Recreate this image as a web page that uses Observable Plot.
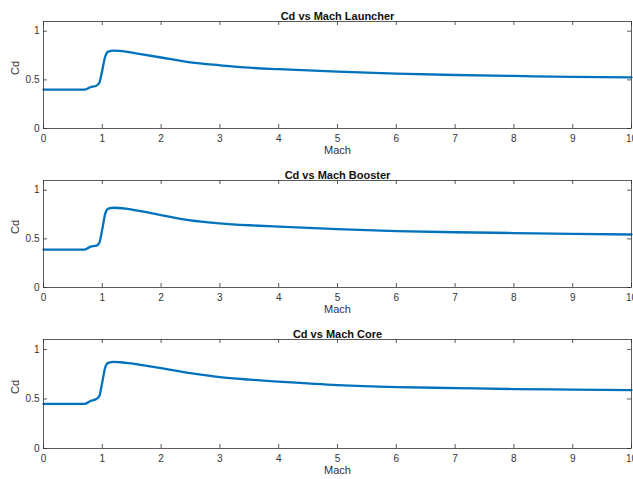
<!DOCTYPE html>
<html>
<head>
<meta charset="utf-8">
<script src="https://cdn.jsdelivr.net/npm/d3@7"></script>
<script src="https://cdn.jsdelivr.net/npm/@observablehq/plot@0.6"></script>
<style>
  html, body { margin: 0; padding: 0; background: #fff; }
  #charts svg { display: block; }
</style>
</head>
<body>
<div id="charts"></div>
<script>
const mach = [0, 0.2, 0.4, 0.6, 0.7, 0.8, 0.9, 0.95, 1.0, 1.05, 1.1, 1.2, 1.4, 1.6, 2.0, 2.5, 3.0, 3.5, 4.0, 5.0, 6.0, 7.0, 8.0, 9.0, 10.0];
const cdLauncher = [0.40, 0.40, 0.40, 0.40, 0.40, 0.425, 0.44, 0.47, 0.60, 0.74, 0.79, 0.80, 0.79, 0.77, 0.73, 0.68, 0.65, 0.625, 0.61, 0.585, 0.565, 0.55, 0.54, 0.53, 0.525];
const cdBooster  = [0.39, 0.39, 0.39, 0.39, 0.39, 0.42, 0.43, 0.46, 0.60, 0.76, 0.81, 0.82, 0.81, 0.79, 0.745, 0.69, 0.66, 0.64, 0.625, 0.60, 0.58, 0.568, 0.56, 0.552, 0.545];
const cdCore     = [0.45, 0.45, 0.45, 0.45, 0.45, 0.48, 0.50, 0.53, 0.67, 0.82, 0.865, 0.875, 0.865, 0.85, 0.81, 0.76, 0.72, 0.695, 0.675, 0.64, 0.62, 0.61, 0.60, 0.595, 0.59];
const titles = ["Cd vs Mach Launcher", "Cd vs Mach Booster", "Cd vs Mach Core"];
const series = [cdLauncher, cdBooster, cdCore];
const xTicks = [0, 1, 2, 3, 4, 5, 6, 7, 8, 9, 10];
const yTicks = [0, 0.5, 1];
const yTickLabels = ["0", "0.5", "1"];

const W = 633, mL = 43, mR = 2, mT = 21, mB = 31;
const heights = [159, 159, 161];
const axisColor = "#333333";
const tickLen = 4;

const container = document.getElementById("charts");
titles.forEach((title, i) => {
  const H = heights[i];
  const plotH = H - mT - mB;
  const plotW = W - mL - mR;
  const data = mach.map((m, j) => ({mach: m, cd: series[i][j]}));
  const chart = Plot.plot({
    width: W, height: H,
    marginLeft: mL, marginRight: mR, marginTop: mT, marginBottom: mB,
    style: {fontFamily: "'Liberation Sans', Arial, sans-serif", color: axisColor, background: "#fff", overflow: "visible"},
    x: {domain: [0, 10], ticks: xTicks, tickSize: 0, tickPadding: 6, tickFormat: d => String(d), label: null},
    y: {domain: [0, 1.1], ticks: yTicks, tickSize: 0, tickPadding: 4, tickFormat: d => yTickLabels[yTicks.indexOf(d)], label: null},
    marks: [
      Plot.axisX(xTicks, {tickSize: 0, tickPadding: 6, fontSize: 10, fill: axisColor, tickFormat: d => String(d), label: null}),
      Plot.axisY(yTicks, {tickSize: 0, tickPadding: 4, fontSize: 10, fill: axisColor, tickFormat: d => yTickLabels[yTicks.indexOf(d)], label: null}),
      Plot.tickX(xTicks, {x: d => d, insetTop: plotH - tickLen, stroke: axisColor, strokeWidth: 0.8}),
      Plot.tickX(xTicks, {x: d => d, insetBottom: plotH - tickLen, stroke: axisColor, strokeWidth: 0.8}),
      Plot.tickY(yTicks, {y: d => d, insetRight: plotW - tickLen, stroke: axisColor, strokeWidth: 0.8}),
      Plot.tickY(yTicks, {y: d => d, insetLeft: plotW - tickLen, stroke: axisColor, strokeWidth: 0.8}),
      Plot.line(data, {x: "mach", y: "cd", stroke: "#0072BD", strokeWidth: 2.3, curve: "monotone-x"}),
      Plot.frame({stroke: axisColor, strokeWidth: 0.8}),
      Plot.text([title], {frameAnchor: "top", dy: -9, fontWeight: "bold", fontSize: 11, fill: "#111"}),
      Plot.text(["Mach"], {frameAnchor: "bottom", dy: 25, fontSize: 11, fill: axisColor}),
      Plot.text(["Cd"], {frameAnchor: "left", dx: -28, rotate: -90, fontSize: 11, fill: axisColor})
    ]
  });
  container.appendChild(chart);
});
</script>
</body>
</html>
